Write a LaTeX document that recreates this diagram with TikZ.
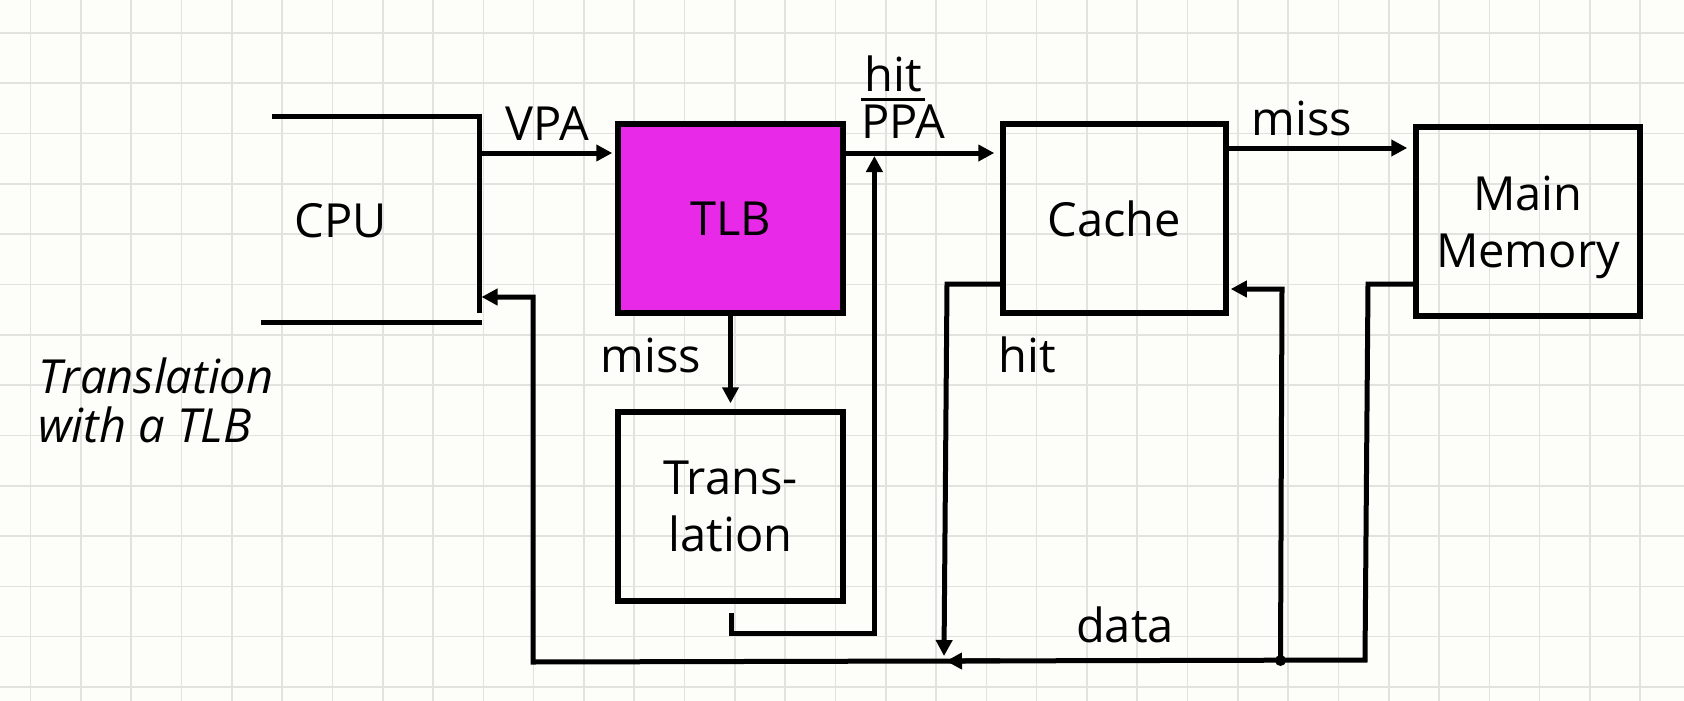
\documentclass[tikz,border=0pt]{standalone}
\usepackage{fontspec}
\setmainfont{Open Sans}
\usetikzlibrary{arrows.meta}
\definecolor{paper}{RGB}{253,253,249}
\definecolor{gridc}{RGB}{226,226,222}
\definecolor{tlbfill}{RGB}{232,42,232}
\newcommand{\diafont}{\fontsize{47}{57}\selectfont}
\begin{document}
\begin{tikzpicture}[x=1pt,y=-1pt,
  blk/.style={draw=black, line width=5.5pt, inner sep=0pt, font=\diafont, align=center, text depth=0pt},
  wire/.style={line width=5pt, line join=miter},
  arr/.style={wire, -{Triangle[length=16pt,width=16pt]}, shorten >=6pt},
  lbl/.style={font=\diafont, inner sep=0pt, anchor=base},
  gridline/.style={gridc, line width=1.6pt}]
\fill[paper] (0,0) rectangle (1684,701);
\useasboundingbox (0,0) rectangle (1684,701);
\foreach \k in {0,...,32} \draw[gridline] ({30.6+50.3*\k},0) -- ({30.6+50.3*\k},701);
\foreach \k in {0,...,13} \draw[gridline] (0,{33+50.3*\k}) -- (1684,{33+50.3*\k});

% blocks
\node[blk, fill=tlbfill, minimum width=225pt, minimum height=189pt] (tlb) at (730.5,218.5) {TLB};
\node[blk, minimum width=225pt, minimum height=189pt] (trans) at (730.5,506.5) {Trans-\\lation};
\node[blk, minimum width=223pt, minimum height=189pt] (cache) at (1114.5,218.5) {Cache};
\node[blk, minimum width=224pt, minimum height=189pt] (mem) at (1528,221.5) {Main\\Memory};

% CPU
\coordinate (cpuTL) at (272,116);
\coordinate (cpuTR) at (479.5,116);
\coordinate (cpuBR) at (479.5,313);
\coordinate (cpuBL) at (261,322);
\coordinate (cpuBE) at (482,322);
\draw[wire] (cpuTL) -- (cpuTR) -- (cpuBR);
\draw[wire] (cpuBL) -- (cpuBE);
\node[lbl] (cpu) at (340.5,237) {CPU};

% connectors
\coordinate (vpaout) at (479.5,153);
\coordinate (mrow) at (0,148);
\draw[arr, shorten >=3pt] (vpaout) -- (vpaout -| tlb.west);
\draw[arr] (tlb.east |- vpaout) -- (cache.west |- vpaout);
\draw[arr] (cache.east |- mrow) -- (mem.west |- mrow);
\draw[arr] (tlb.south) -- (trans.north);

\coordinate (tstub) at (731,613);
\coordinate (tcorner) at (731,633);
\coordinate (tjoin) at (874.4,156);
\draw[arr, shorten >=0pt] (tstub) -- (tcorner) -| (tjoin);

\coordinate (chit) at (947,284);
\coordinate (chitend) at (944,656);
\draw[arr, shorten >=0pt] (cache.west |- chit) -- (chit) -- (chitend);

\coordinate (mA) at (1368,284);
\coordinate (mB) at (1365,660);
\coordinate (bL) at (533,662);
\coordinate (bU) at (533,297);
\coordinate (cpuin) at (cpuBR |- bU);
\draw[arr, shorten >=2pt] (mem.west |- mA) -- (mA) -- (mB) -- (bL) -- (bU) -- (cpuin);

\coordinate (jn) at (1280.5,660.5);
\coordinate (jup) at (1282,289);
\draw[arr, shorten >=2pt] (jn) -- (jup) -- (cache.east |- jup);
\fill (jn) circle (5.5pt);

\coordinate (dA) at (1000,660.8);
\coordinate (dB) at (946,661.1);
\draw[arr, shorten >=0pt] (dA) -- (dB);

% labels
\node[lbl] (vpa) at (547,140) {VPA};
\node[lbl] (hitl) at (893,92) {hit};
\draw[line width=3pt] (861,99) -- (925,99);
\node[lbl] (ppa) at (903,138) {PPA};
\node[lbl] (miss1) at (651,372) {miss};
\node[lbl] (hit2) at (1027,372) {hit};
\node[lbl] (miss2) at (1302,135) {miss};
\node[lbl] (data) at (1125,642) {data};
\node[lbl, anchor=base west, font=\diafont\itshape] (cap1) at (38,393) {Translation};
\node[lbl, anchor=base west, font=\diafont\itshape] (cap2) at (38,442) {with a TLB};
\end{tikzpicture}
\end{document}
